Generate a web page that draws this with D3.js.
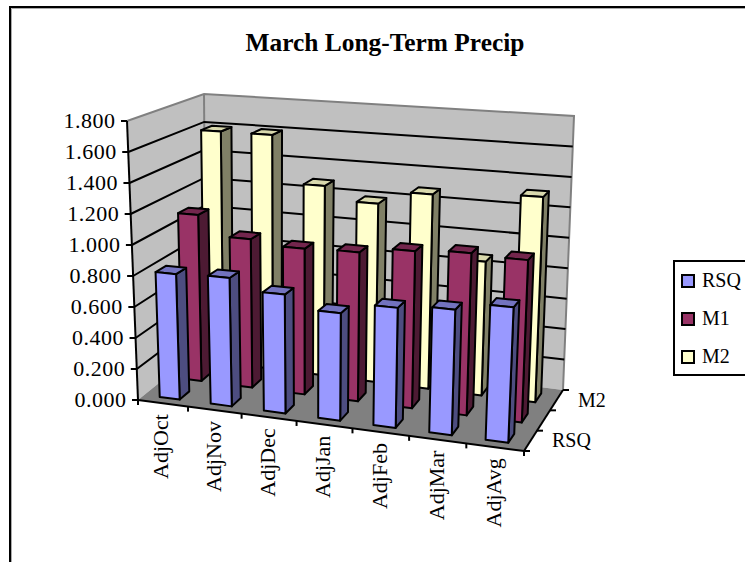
<!DOCTYPE html>
<html>
<head>
<meta charset="utf-8">
<script src="https://cdn.jsdelivr.net/npm/d3@7"></script>
<style>
    html, body { margin: 0; padding: 0; background: #fff; }
    svg { display: block; }
    text { font-family: "Liberation Serif", serif; fill: #000; }
</style>
</head>
<body>
<div id="viz"></div>
<script>
// Data
const categories = ["AdjOct", "AdjNov", "AdjDec", "AdjJan", "AdjFeb", "AdjMar", "AdjAvg"];
const seriesNames = ["RSQ", "M1", "M2"];
const rsq = [0.81, 0.82, 0.75, 0.67, 0.74, 0.765, 0.815];
const m1 = [1.11, 0.98, 0.95, 0.96, 1.00, 1.02, 1.01];
const m2 = [1.60, 1.60, 1.28, 1.19, 1.28, 0.87, 1.32];
const seriesValues = [rsq, m1, m2];
const yTickValues = d3.range(0, 10).map(i => i * 0.2);
const title = "March Long-Term Precip";

// Front, side and top face colours per series
const frontColors = ["#9999FF", "#993366", "#FFFFCC"];
const sideColors = ["#4D4D80", "#4D1A33", "#808066"];
const topColors = ["#7373BF", "#73264D", "#D9D9AD"];

const width = 745, height = 562;

const svg = d3.select("#viz")
    .append("svg")
    .attr("width", width)
    .attr("height", height);

// Screen position of the eight corners of the plot box
const corners = {
    frontBottomLeft: [138, 400], frontBottomRight: [524, 451],
    backBottomLeft: [206, 345], backBottomRight: [563, 390],
    frontTopLeft: [127, 121], frontTopRight: [537, 148],
    backTopLeft: [204, 94], backTopRight: [574, 116]
};

// Normalised positions in the box, x has a little perspective
const xUnit = d3.scalePow().exponent(1.05).domain([0, categories.length]).range([0, 1]);
const zUnit = d3.scaleLinear().domain([0, seriesNames.length]).range([0, 1]);
const yUnit = d3.scaleLinear().domain([0, 1.8]).range([0, 1]);

const xBand = d3.scaleBand().domain(d3.range(categories.length))
    .range([0.03, categories.length - 0.04]).paddingInner(0.6).paddingOuter(0.3);
const zBand = d3.scaleBand().domain(d3.range(seriesNames.length))
    .range([0, seriesNames.length]).paddingInner(0.56).paddingOuter(0.28);

function mix(a, b, t) {
    return [a[0] + (b[0] - a[0]) * t, a[1] + (b[1] - a[1]) * t];
}

// x in categories, z in series rows, v in data units
function project(x, z, v) {
    const u = xUnit(x), w = zUnit(z), h = yUnit(v);
    const bottomFront = mix(corners.frontBottomLeft, corners.frontBottomRight, u);
    const bottomBack = mix(corners.backBottomLeft, corners.backBottomRight, u);
    const topFront = mix(corners.frontTopLeft, corners.frontTopRight, u);
    const topBack = mix(corners.backTopLeft, corners.backTopRight, u);
    return mix(mix(bottomFront, bottomBack, w), mix(topFront, topBack, w), h);
}

const line = d3.line();
const closed = pts => line(pts) + "Z";
const nX = categories.length, nZ = seriesNames.length, yMax = 1.8;

// Chart frame, runs off the right and bottom of the window
svg.append("path")
    .attr("d", line([[10, height + 5], [10, 7], [width + 5, 7]]))
    .attr("fill", "none").attr("stroke", "#000").attr("stroke-width", 2);
svg.append("path")
    .attr("d", line([[11.5, height + 5], [11.5, 8.5], [width + 5, 8.5]]))
    .attr("fill", "none").attr("stroke", "#aaa").attr("stroke-width", 1);

svg.append("text")
    .attr("x", 385).attr("y", 51)
    .attr("text-anchor", "middle")
    .attr("font-size", 25.4).attr("font-weight", "bold")
    .text(title);

// Walls and floor
const walls = svg.append("g");
walls.append("path")
    .attr("d", closed([project(0, nZ, 0), project(0, nZ, yMax), project(nX, nZ, yMax), project(nX, nZ, 0)]))
    .attr("fill", "#C0C0C0");
walls.append("path")
    .attr("d", closed([project(0, 0, 0), project(0, 0, yMax), project(0, nZ, yMax), project(0, nZ, 0)]))
    .attr("fill", "#C0C0C0");
walls.append("path")
    .attr("d", closed([project(0, 0, 0), project(nX, 0, 0), project(nX, nZ, 0), project(0, nZ, 0)]))
    .attr("fill", "#808080");

// Gray outline of the walls
walls.append("path")
    .attr("d", line([project(0, 0, yMax), project(0, nZ, yMax), project(nX, nZ, yMax), project(nX, nZ, 0)]))
    .attr("fill", "none").attr("stroke", "#808080").attr("stroke-width", 2);
walls.append("path")
    .attr("d", line([project(0, nZ, yMax), project(0, nZ, 0)]))
    .attr("fill", "none").attr("stroke", "#808080").attr("stroke-width", 2);

// Gridlines on both walls
walls.selectAll(".grid")
    .data(yTickValues.slice(1, -1))
    .join("path")
    .attr("class", "grid")
    .attr("d", v => line([project(0, 0, v), project(0, nZ, v), project(nX, nZ, v)]))
    .attr("fill", "none").attr("stroke", "#000").attr("stroke-width", 2);

// Bars, back row first
const bars = svg.append("g")
    .attr("stroke", "#000").attr("stroke-width", 2).attr("stroke-linejoin", "round");

d3.range(nZ).reverse().forEach(s => {
    seriesValues[s].forEach((val, c) => {
        const x0 = xBand(c), x1 = x0 + xBand.bandwidth();
        const z0 = zBand(s), z1 = z0 + zBand.bandwidth();
        bars.append("path")
            .attr("d", closed([project(x1, z0, 0), project(x1, z1, 0), project(x1, z1, val), project(x1, z0, val)]))
            .attr("fill", sideColors[s]);
        bars.append("path")
            .attr("d", closed([project(x0, z0, val), project(x1, z0, val), project(x1, z1, val), project(x0, z1, val)]))
            .attr("fill", topColors[s]);
        bars.append("path")
            .attr("d", closed([project(x0, z0, 0), project(x1, z0, 0), project(x1, z0, val), project(x0, z0, val)]))
            .attr("fill", frontColors[s]);
    });
});

// Value axis
const axes = svg.append("g").attr("fill", "none").attr("stroke", "#000").attr("stroke-width", 2);
axes.append("path").attr("d", line([project(0, 0, 0), project(0, 0, yMax)]));
axes.selectAll(".ytick")
    .data(yTickValues)
    .join("path")
    .attr("class", "ytick")
    .attr("d", v => {
        const p = project(0, 0, v);
        return line([p, [p[0] - 6, p[1]]]);
    });

svg.append("g").selectAll("text")
    .data(yTickValues)
    .join("text")
    .attr("x", v => project(0, 0, v)[0] - 11.5)
    .attr("y", v => project(0, 0, v)[1] + 7)
    .attr("text-anchor", "end")
    .attr("font-size", 22)
    .attr("letter-spacing", 0.5)
    .text(d3.format(".3f"));

// Category axis
axes.append("path").attr("d", line([project(0, 0, 0), project(nX, 0, 0)]));
axes.selectAll(".xtick")
    .data(d3.range(nX + 1))
    .join("path")
    .attr("class", "xtick")
    .attr("d", c => {
        const p = project(c, 0, 0);
        return line([p, [p[0], p[1] + 5]]);
    });

svg.append("g").selectAll("text")
    .data(categories)
    .join("text")
    .attr("transform", (d, i) => {
        const p = project(i + 0.5, 0, 0);
        return `translate(${p[0] + 6},${p[1] + 11}) rotate(-90)`;
    })
    .attr("text-anchor", "end")
    .attr("font-size", 22)
    .text(d => d);

// Series axis, M1 label is dropped as in the original
axes.append("path").attr("d", line([project(nX, 0, 0), project(nX, nZ, 0)]));
axes.selectAll(".ztick")
    .data(d3.range(nZ + 1))
    .join("path")
    .attr("class", "ztick")
    .attr("d", s => {
        const p = project(nX, s, 0);
        return line([p, [p[0] + 6, p[1]]]);
    });

svg.append("g").selectAll("text")
    .data(seriesNames.filter((d, i) => i !== 1))
    .join("text")
    .attr("x", d => project(nX, seriesNames.indexOf(d) + 0.5, 0)[0] + 21.5)
    .attr("y", d => project(nX, seriesNames.indexOf(d) + 0.5, 0)[1] + 6.5)
    .attr("font-size", 20)
    .text(d => d);

// Legend, its box runs off the right of the window
const legend = svg.append("g");
legend.append("rect")
    .attr("x", 674).attr("y", 261).attr("width", 90).attr("height", 114)
    .attr("fill", "#fff").attr("stroke", "#000").attr("stroke-width", 2);

const legendY = d3.scalePoint().domain(seriesNames).range([281, 357]);
legend.selectAll("rect.key")
    .data(seriesNames)
    .join("rect")
    .attr("class", "key")
    .attr("x", 682).attr("y", d => legendY(d) - 6)
    .attr("width", 12).attr("height", 12)
    .attr("fill", (d, i) => frontColors[i])
    .attr("stroke", "#000").attr("stroke-width", 2);
legend.selectAll("text")
    .data(seriesNames)
    .join("text")
    .attr("x", 702).attr("y", d => legendY(d) + 6)
    .attr("font-size", 20)
    .text(d => d);
</script>
</body>
</html>
